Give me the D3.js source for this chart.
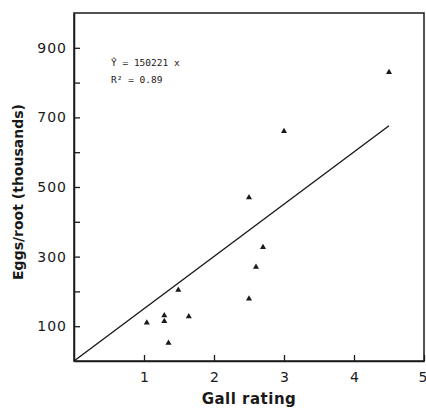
<!DOCTYPE html>
<html><head><meta charset="utf-8">
<script src="https://cdn.jsdelivr.net/npm/d3@7"></script>
<style>body{margin:0;background:#fff}svg{display:block}</style>
</head><body>
<script>
const gallRating = [4.5, 3.0, 2.5, 2.7, 2.6, 2.5, 1.49, 1.04, 1.29, 1.29, 1.64, 1.35];
const eggsPerRoot = [830, 660, 470, 327, 270, 179, 204, 110, 131, 114, 128, 52];
const slope = 150.221; // thousands per rating unit
const lineXRange = [0, 4.5];
const xTicks = [1, 2, 3, 4, 5];
const yTicks = [100, 200, 300, 400, 500, 600, 700, 800, 900];
const yLabels = [100, 300, 500, 700, 900];
const equationLines = ["Ŷ = 150221 x", "R² = 0.89"];

const W = 426, H = 410;
const m = {left: 74, right: 2, top: 13, bottom: 49};
const svg = d3.select("body").append("svg").attr("width", W).attr("height", H);
const x = d3.scaleLinear().domain([0, 5]).range([m.left, W - m.right]);
const y = d3.scaleLinear().domain([0, 1000]).range([H - m.bottom, m.top]);
const ink = "#1a1a1a";

// frame
svg.append("rect").attr("x", x(0)).attr("y", y(1000))
  .attr("width", x(5) - x(0)).attr("height", y(0) - y(1000))
  .attr("fill", "none").attr("stroke", ink).attr("stroke-width", 1.5);

// x axis
const xa = svg.append("g").attr("transform", `translate(0,${y(0)})`)
  .call(d3.axisBottom(x).tickValues(xTicks).tickSizeInner(-6).tickSizeOuter(0).tickPadding(11).tickFormat(d3.format("d")));
xa.select(".domain").attr("stroke", ink).attr("stroke-width", 1.5);
xa.selectAll(".tick line").attr("stroke", ink).attr("stroke-width", 1.3);
xa.selectAll("text").attr("font-family", "DejaVu Sans").attr("font-size", 14).attr("fill", ink);
xa.selectAll(".tick text").filter(d => d === 5).attr("text-anchor", "end").attr("dx", 3);

// y axis
const ya = svg.append("g").attr("transform", `translate(${x(0)},0)`)
  .call(d3.axisLeft(y).tickValues(yTicks).tickSizeInner(-6).tickSizeOuter(0).tickPadding(7)
    .tickFormat(d => yLabels.includes(d) ? d : ""));
ya.select(".domain").attr("stroke", ink).attr("stroke-width", 1.5);
ya.selectAll(".tick line").attr("stroke", ink).attr("stroke-width", 1.3);
ya.selectAll("text").attr("font-family", "DejaVu Sans").attr("font-size", 14).attr("fill", ink)
  .attr("letter-spacing", 1);

// regression line
svg.append("path")
  .datum(lineXRange)
  .attr("d", d3.line().x(d => x(d)).y(d => y(d * slope)))
  .attr("stroke", ink).attr("stroke-width", 1.4).attr("fill", "none");

// points
const tri = d3.symbol().type(d3.symbolTriangle).size(16);
svg.selectAll("path.pt").data(gallRating).enter().append("path")
  .attr("class", "pt")
  .attr("d", tri)
  .attr("transform", (d, i) => `translate(${x(d)},${y(eggsPerRoot[i])})`)
  .attr("fill", ink);

// equation
svg.selectAll("text.eq").data(equationLines).enter().append("text")
  .attr("class", "eq")
  .attr("x", 111).attr("y", (d, i) => 66 + i * 17)
  .attr("font-family", "DejaVu Sans Mono").attr("font-size", 9.5).attr("fill", ink)
  .text(d => d);

// axis titles
svg.append("text").attr("x", 249).attr("y", 404).attr("text-anchor", "middle")
  .attr("font-family", "DejaVu Sans").attr("font-weight", "bold").attr("font-size", 15)
  .attr("letter-spacing", 0.5).attr("fill", ink).text("Gall rating");
svg.append("text").attr("transform", `translate(23,${(y(0) + y(1000)) / 2 + 5}) rotate(-90)`)
  .attr("text-anchor", "middle")
  .attr("font-family", "DejaVu Sans").attr("font-weight", "bold").attr("font-size", 14)
  .attr("fill", ink).text("Eggs/root (thousands)");
</script>
</body></html>
